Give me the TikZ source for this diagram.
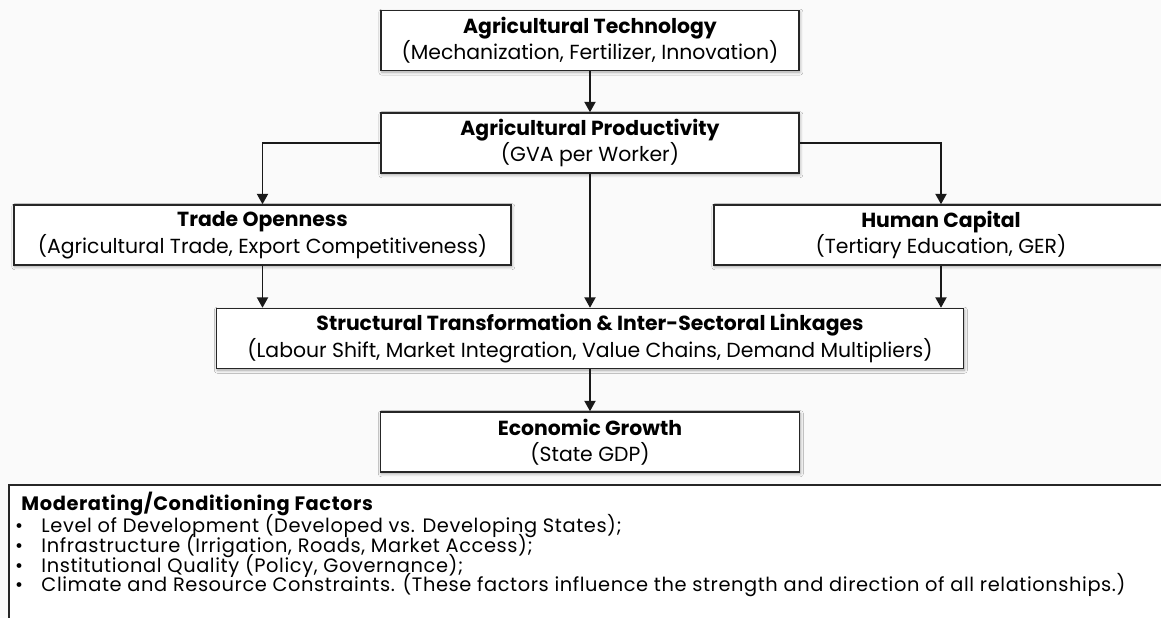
\documentclass[tikz,border=0pt]{standalone}
\usepackage{fontspec}
\setmainfont{Poppins}
\usetikzlibrary{arrows.meta,shadows.blur}

\begin{document}
\setlength{\lineskiplimit}{-20pt}
\begin{tikzpicture}[
  box/.style={rectangle, draw=black!85, line width=1.1pt, fill=white,
    minimum height=1.5cm, align=center,
    font=\fontsize{14.5}{18.8}\selectfont,
    blur shadow={shadow xshift=0.6pt, shadow yshift=-1.2pt,
      shadow blur steps=6, shadow opacity=35}},
  link/.style={-{Triangle[length=2.6mm, width=2.8mm]}, line width=1pt,
    draw=black!90},
  line/.style={anchor=base west, inner sep=0pt,
    font=\fontsize{13.8}{16}\selectfont\addfontfeature{LetterSpace=3}},
  dot/.style={anchor=base, inner sep=0pt,
    font=\fontsize{13.8}{16}\selectfont},
]

% Page and backdrop
\useasboundingbox (0,0) rectangle (29.025,-15.45);
\fill[black!2] (0,0) rectangle (29.025,-15.45);

% Centre column
\def\midx{14.75}

\node[box, minimum width=10.45cm] (tech) at (\midx, -1.01)
  {{\bfseries Agricultural Technology}\\(Mechanization, Fertilizer, Innovation)};
\node[box, minimum width=10.45cm] (prod) at (\midx, -3.575)
  {{\bfseries Agricultural Productivity}\\(GVA per Worker)};

% Side channels
\node[box, minimum width=12.425cm] (trade) at (6.5625, -5.875)
  {{\bfseries Trade Openness}\\(Agricultural Trade, Export Competitiveness)};
\node[box, minimum width=11.35cm] (human) at (23.525, -5.875)
  {{\bfseries Human Capital}\\(Tertiary Education, GER)};

% Transformation and outcome
\node[box, minimum width=18.675cm] (struct) at (\midx, -8.4625)
  {{\bfseries Structural Transformation \& Inter-Sectoral Linkages}\\
   (Labour Shift, Market Integration, Value Chains, Demand Multipliers)};
\node[box, minimum width=10.475cm] (growth) at (\midx, -11.05)
  {{\bfseries Economic Growth}\\(State GDP)};

% Arrows
\draw[link] (tech) -- (prod);
\draw[link] (prod.west) -| (trade.north);
\draw[link] (prod.east) -| (human.north);
\draw[link] (prod) -- (struct);
\draw[link] (trade.south) -- (trade.south |- struct.north);
\draw[link] (human.south) -- (human.south |- struct.north);
\draw[link] (struct) -- (growth);

% Moderating factors panel
\draw[draw=black!85, line width=1.1pt, fill=white] (0.225,-12.125) rectangle (29.4,-15.9);

\def\tx{1.03}  % item text
\def\bx{0.48}  % bullets
\node[line] (mtitle) at (0.53, -12.76) {\bfseries Moderating/Conditioning Factors};
\node[dot] (b1) at (\bx, -13.32) {\textbullet};
\node[line] (m1) at (\tx, -13.32) {Level of Development (Developed vs. Developing States);};
\node[dot] (b2) at (\bx, -13.82) {\textbullet};
\node[line] (m2) at (\tx, -13.82) {Infrastructure (Irrigation, Roads, Market Access);};
\node[dot] (b3) at (\bx, -14.30) {\textbullet};
\node[line] (m3) at (\tx, -14.30) {Institutional Quality (Policy, Governance);};
\node[dot] (b4) at (\bx, -14.79) {\textbullet};
\node[line] (m4) at (\tx, -14.79) {Climate and Resource Constraints. (These factors influence the strength and direction of all relationships.)};

\end{tikzpicture}
\end{document}
